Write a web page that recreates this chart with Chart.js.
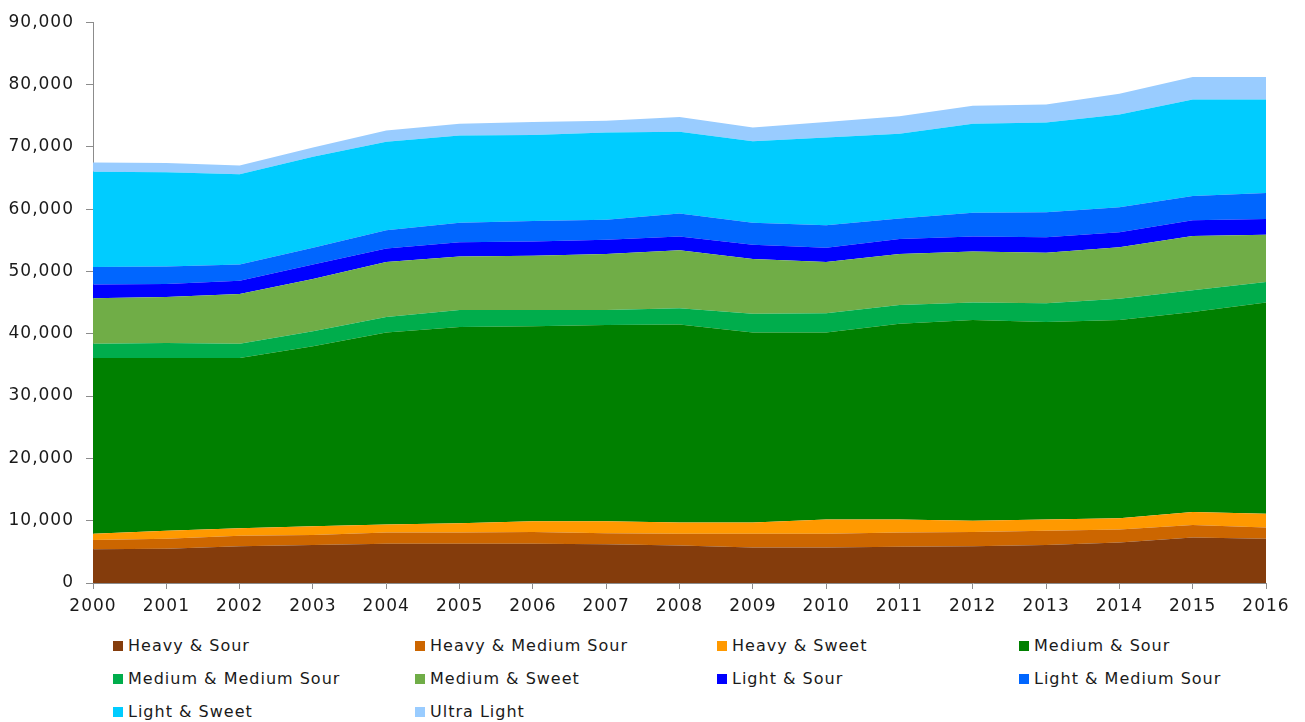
<!DOCTYPE html>
<html lang="en">
    <head>
        <meta charset="UTF-8" />
        <title>Crude quality stacked area</title>
        <script src="https://cdn.jsdelivr.net/npm/chart.js"></script>
        <style>
            body {
                margin: 0;
                background: #fff;
                font-family: "DejaVu Sans", sans-serif;
            }
            #chart-box {
                position: relative;
                width: 1305px;
                height: 625px;
            }
            #legend-container {
                display: grid;
                grid-template-columns: repeat(4, 302px);
                grid-auto-rows: 33px;
                margin-left: 113px;
                margin-top: 4px;
            }
            .legend-item {
                display: flex;
                align-items: center;
                font-size: 16px;
                letter-spacing: 1px;
                color: #1a1a1a;
            }
            .legend-color {
                display: inline-block;
                width: 10px;
                height: 10px;
                margin-right: 5px;
            }
        </style>
    </head>
    <body>
        <div id="chart-box"><canvas id="areaChart"></canvas></div>
        <div id="legend-container"></div>

        <script>
            const years = ["2000", "2001", "2002", "2003", "2004", "2005", "2006", "2007", "2008",
                "2009", "2010", "2011", "2012", "2013", "2014", "2015", "2016"];

            const heavySour = [5400, 5500, 5900, 6100, 6300, 6300, 6300, 6200, 6000, 5700, 5700, 5800, 5900, 6100, 6500, 7300, 7100];
            const heavyMediumSour = [1500, 1600, 1700, 1600, 1800, 1800, 1900, 1800, 1900, 2200, 2200, 2300, 2300, 2300, 2100, 2000, 1800];
            const heavySweet = [1000, 1300, 1200, 1400, 1300, 1500, 1700, 1900, 1800, 1800, 2300, 2100, 1800, 1800, 1800, 2100, 2200];
            const mediumSour = [28200, 27700, 27300, 28900, 30800, 31500, 31300, 31500, 31800, 30500, 30000, 31400, 32200, 31700, 31800, 32100, 33900];
            const mediumMediumSour = [2300, 2400, 2300, 2400, 2500, 2700, 2600, 2400, 2600, 3000, 3100, 3000, 2800, 3000, 3400, 3500, 3300];
            const mediumSweet = [7300, 7400, 8000, 8400, 8800, 8600, 8700, 9000, 9300, 8800, 8200, 8200, 8200, 8100, 8300, 8700, 7600];
            const lightSour = [2200, 2100, 2100, 2300, 2200, 2300, 2300, 2300, 2200, 2300, 2300, 2400, 2400, 2500, 2400, 2500, 2500];
            const lightMediumSour = [2800, 2800, 2600, 2700, 2900, 3100, 3300, 3200, 3700, 3500, 3600, 3300, 3800, 4000, 4000, 3900, 4200];
            const lightSweet = [15300, 15100, 14500, 14600, 14200, 14000, 13800, 14000, 13100, 13100, 14100, 13600, 14300, 14400, 14900, 15500, 15000];
            const ultraLight = [1500, 1500, 1400, 1500, 1800, 1900, 2100, 1900, 2400, 2200, 2500, 2800, 2900, 2900, 3300, 3600, 3600];

            const seriesNames = ["Heavy & Sour", "Heavy & Medium Sour", "Heavy & Sweet", "Medium & Sour",
                "Medium & Medium Sour", "Medium & Sweet", "Light & Sour", "Light & Medium Sour",
                "Light & Sweet", "Ultra Light"];
            const seriesValues = [heavySour, heavyMediumSour, heavySweet, mediumSour, mediumMediumSour,
                mediumSweet, lightSour, lightMediumSour, lightSweet, ultraLight];
            const seriesColors = ["#843c0c", "#cc6600", "#ff9900", "#008000", "#00ad4c",
                "#70ad47", "#0000ff", "#0066ff", "#00ccff", "#99ccff"];

            const axisColor = "#8c8c8c";
            const tickFont = { family: "DejaVu Sans", size: 17 };

            // canvas has no letter-spacing option in Chart.js, set it on the context
            const spacing = {
                id: "spacing",
                beforeLayout(chart) { chart.ctx.letterSpacing = "1px"; },
                beforeDraw(chart) { chart.ctx.letterSpacing = "1px"; },
            };

            const ctx = document.getElementById("areaChart").getContext("2d");

            new Chart(ctx, {
                type: "line",
                data: {
                    labels: years,
                    datasets: seriesNames.map((name, i) => ({
                        label: name,
                        data: seriesValues[i],
                        backgroundColor: seriesColors[i],
                        borderColor: seriesColors[i],
                        borderWidth: 0,
                        pointRadius: 0,
                        tension: 0,
                        fill: i === 0 ? "origin" : "-1",
                    })),
                },
                options: {
                    responsive: true,
                    maintainAspectRatio: false,
                    animation: false,
                    layout: { padding: { left: 0, top: 18, right: 39, bottom: 0 } },
                    plugins: {
                        legend: { display: false }, // html legend below
                        tooltip: { enabled: false },
                    },
                    scales: {
                        x: {
                            offset: false,
                            grid: {
                                display: true,
                                drawOnChartArea: false,
                                drawTicks: true,
                                tickLength: 6,
                                color: axisColor,
                            },
                            border: { color: axisColor, width: 1 },
                            ticks: { color: "#1a1a1a", font: tickFont, padding: 7, maxRotation: 0, autoSkip: false },
                            afterFit(scale) { scale.height = 42; },
                        },
                        y: {
                            stacked: true,
                            min: 0,
                            max: 90000,
                            grid: {
                                display: true,
                                drawOnChartArea: false,
                                drawTicks: true,
                                tickLength: 7,
                                color: axisColor,
                            },
                            border: { color: axisColor, width: 1 },
                            ticks: {
                                stepSize: 10000,
                                color: "#1a1a1a",
                                font: tickFont,
                                padding: 12,
                                callback: (v) => v.toLocaleString("en-US"),
                            },
                            afterFit(scale) { scale.width = 93; },
                        },
                    },
                },
                plugins: [spacing],
            });

            // legend in 4 columns like the original
            const legendContainer = document.getElementById("legend-container");
            seriesNames.forEach((name, i) => {
                const div = document.createElement("div");
                div.classList.add("legend-item");
                div.innerHTML = `<span class="legend-color" style="background-color:${seriesColors[i]}"></span>${name}`;
                legendContainer.appendChild(div);
            });
        </script>
    </body>
</html>
